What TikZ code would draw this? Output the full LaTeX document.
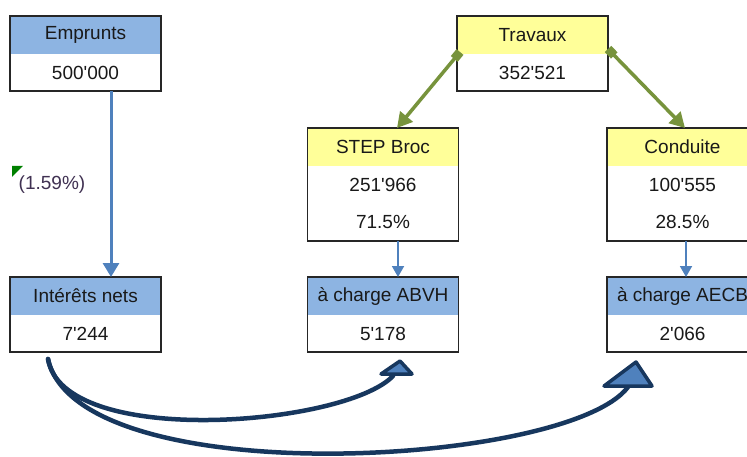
\documentclass[tikz,border=0pt]{standalone}
\usepackage{fontspec}
\newfontfamily\lsans{Liberation Sans}
\usetikzlibrary{positioning,arrows.meta}
\definecolor{hdrblue}{HTML}{8DB4E2}
\definecolor{hdryellow}{HTML}{FFFF99}
\definecolor{linkblue}{HTML}{4F81BD}
\definecolor{linkgreen}{HTML}{77933C}
\definecolor{navy}{HTML}{17375E}
\definecolor{notegreen}{HTML}{008000}
\definecolor{ratepurple}{HTML}{403152}
\tikzset{
    every node/.style={font=\lsans\fontsize{19}{22}\selectfont, text=black!90, inner sep=0pt, outer sep=0pt},
    hdr/.style={minimum width=151pt, minimum height=38pt},
    cell/.style={minimum width=151pt, minimum height=37pt},
    halfcell/.style={minimum width=151pt, minimum height=37.5pt},
    frame/.style={draw=black!85, line width=1.5pt},
    bluelink/.style={draw=linkblue, line width=3pt, -{Triangle[length=14pt,width=16pt]}},
    bluethin/.style={draw=linkblue, line width=1.8pt, -{Triangle[length=11pt,width=12pt]}},
    greenlink/.style={draw=linkgreen, line width=3.5pt, {Square[length=9pt,width=9pt]}-{Triangle[length=15pt,width=16pt]}},
    curvelink/.style={draw=navy, line width=4.5pt, line cap=round},
    tiphead/.style={draw=navy, fill=linkblue, line width=3.5pt, line join=round}
}
\begin{document}
\begin{tikzpicture}[x=1pt, y=-1pt]
    \clip (0,0) rectangle (747,457);
    \fill[white] (0,0) rectangle (747,457);
    % left column
    \node[hdr, fill=hdrblue] (empH) at (85.5,35) {Emprunts};
    \node[cell, below=0pt of empH] (empV) {500'000};
    \node[hdr, fill=hdrblue] (intH) at (85.5,296) {Intérêts nets};
    \node[cell, below=0pt of intH] (intV) {7'244};
    \node[text=ratepurple] (rate) at (52,185) {(1.59\%)};
    \fill[notegreen] (12,166) -- (23,166) -- (12,177) -- cycle;
    % works and split
    \node[hdr, fill=hdryellow] (travH) at (532.5,35) {Travaux};
    \node[cell, below=0pt of travH] (travV) {352'521};
    \node[hdr, fill=hdryellow] (stepH) at (383,147) {STEP Broc};
    \node[halfcell, below=0pt of stepH] (stepV) {251'966};
    \node[halfcell, below=0pt of stepV] (stepP) {71.5\%};
    \node[hdr, fill=hdryellow] (condH) at (682.5,147) {Conduite};
    \node[halfcell, below=0pt of condH] (condV) {100'555};
    \node[halfcell, below=0pt of condV] (condP) {28.5\%};
    % shares
    \node[hdr, fill=hdrblue] (abvhH) at (383,296) {à charge ABVH};
    \node[cell, below=0pt of abvhH] (abvhV) {5'178};
    \node[hdr, fill=hdrblue] (aecbH) at (682.5,296) {à charge AECB};
    \node[cell, below=0pt of aecbH] (aecbV) {2'066};
    \foreach \a/\b in {empH/empV, intH/intV, travH/travV, stepH/stepP, condH/condP, abvhH/abvhV, aecbH/aecbV}
        \draw[frame] (\a.north west) rectangle (\b.south east);
    % links
    \draw[bluelink] ([xshift=25.5pt]empV.south) -- ([xshift=25.5pt]intH.north);
    \draw[bluethin] ([xshift=15pt]stepP.south) -- ([xshift=15pt]abvhH.north);
    \draw[bluethin] ([xshift=3.5pt]condP.south) -- ([xshift=3.5pt]aecbH.north);
    \draw[greenlink] ([xshift=3pt,yshift=2pt]travH.south west) -- ([xshift=14pt]stepH.north);
    \draw[greenlink] ([yshift=5pt]travH.south east) -- ([xshift=2.5pt]condH.north);
    % interest shares
    \coordinate (abvhIn) at ([xshift=10pt,yshift=-24pt]abvhV.south);
    \coordinate (aecbIn) at ([xshift=-54.5pt,yshift=-35pt]aecbV.south);
    \draw[curvelink] ([xshift=-37.5pt,yshift=-7pt]intV.south) .. controls +(15,90) and +(-48,50) .. (abvhIn);
    \draw[curvelink] ([xshift=-37.5pt,yshift=-7pt]intV.south) .. controls +(30,135) and +(-60,80) .. (aecbIn);
    \draw[tiphead] (381,374) -- (412,374) -- (400,361) -- cycle;
    \draw[tiphead] (604,386) -- (652,386) -- (636,362) -- cycle;
\end{tikzpicture}
\end{document}
